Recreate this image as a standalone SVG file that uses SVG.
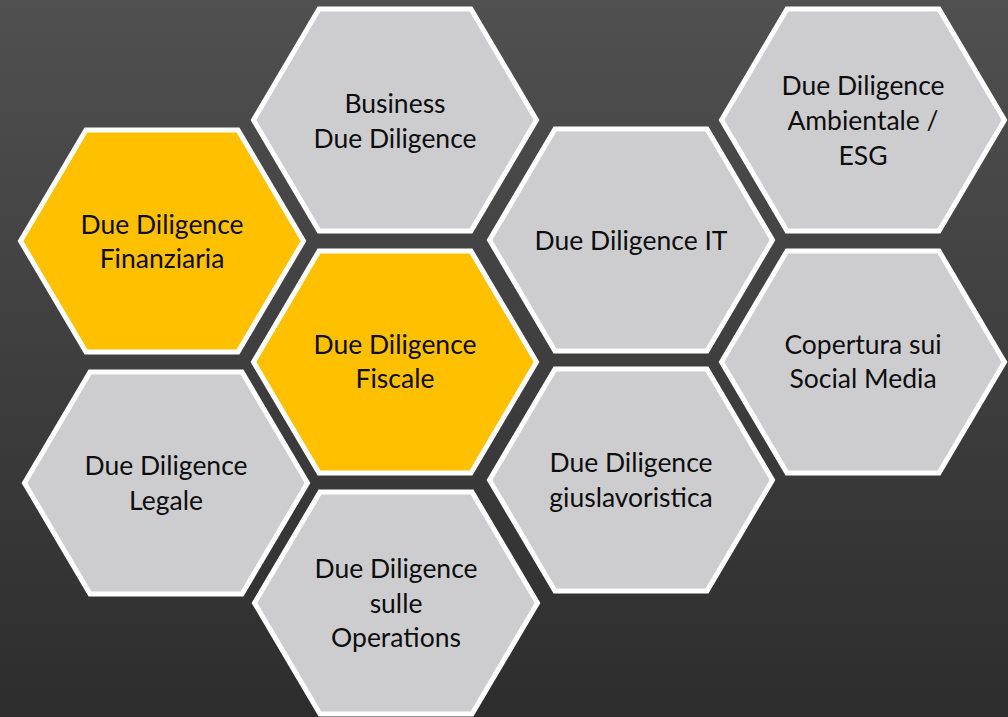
<svg xmlns="http://www.w3.org/2000/svg" xmlns:xlink="http://www.w3.org/1999/xlink" width="1008" height="717" viewBox="0 0 1008 717">
  <defs>
    <linearGradient id="bg" x1="0" y1="0" x2="0" y2="1">
      <stop offset="0" stop-color="#505050"/>
      <stop offset="1" stop-color="#2d2d2d"/>
    </linearGradient>
    <!-- one honeycomb cell, centred on the origin -->
    <polygon id="hex" points="-141.5,0 -76,-111 76,-111 141.5,0 76,111 -76,111"/>
  </defs>
  <style>
    .cell { stroke: #ffffff; stroke-width: 5; stroke-linejoin: miter; }
    .grey { fill: #cdcdd0; }
    .gold { fill: #ffc000; }
    .label { font-family: "Lato", "Open Sans", "Liberation Sans", sans-serif; font-size: 26.5px; fill: #0d0d0d; text-anchor: middle; }
  </style>

  <rect width="1008" height="717" fill="url(#bg)"/>

  <g id="dd-finanziaria" transform="translate(162,241)">
    <use xlink:href="#hex" class="cell gold"/>
    <text class="label"><tspan x="0" y="-7">Due Diligence</tspan><tspan x="0" y="27">Finanziaria</tspan></text>
  </g>

  <g id="dd-business" transform="translate(395,120)">
    <use xlink:href="#hex" class="cell grey"/>
    <text class="label"><tspan x="0" y="-7">Business</tspan><tspan x="0" y="28">Due Diligence</tspan></text>
  </g>

  <g id="dd-fiscale" transform="translate(395,362)">
    <use xlink:href="#hex" class="cell gold"/>
    <text class="label"><tspan x="0" y="-8">Due Diligence</tspan><tspan x="0" y="26">Fiscale</tspan></text>
  </g>

  <g id="dd-it" transform="translate(631,240)">
    <use xlink:href="#hex" class="cell grey"/>
    <text class="label"><tspan x="0" y="10">Due Diligence IT</tspan></text>
  </g>

  <g id="dd-ambientale" transform="translate(863,120)">
    <use xlink:href="#hex" class="cell grey"/>
    <text class="label"><tspan x="0" y="-25">Due Diligence</tspan><tspan x="0" y="10">Ambientale /</tspan><tspan x="0" y="45">ESG</tspan></text>
  </g>

  <g id="social-media" transform="translate(863,362)">
    <use xlink:href="#hex" class="cell grey"/>
    <text class="label"><tspan x="0" y="-8">Copertura sui</tspan><tspan x="0" y="26">Social Media</tspan></text>
  </g>

  <g id="dd-legale" transform="translate(166,483)">
    <use xlink:href="#hex" class="cell grey"/>
    <text class="label"><tspan x="0" y="-8">Due Diligence</tspan><tspan x="0" y="27">Legale</tspan></text>
  </g>

  <g id="dd-operations" transform="translate(396,603)">
    <use xlink:href="#hex" class="cell grey"/>
    <text class="label"><tspan x="0" y="-25">Due Diligence</tspan><tspan x="0" y="10">sulle</tspan><tspan x="0" y="44">Operations</tspan></text>
  </g>

  <g id="dd-giuslavoristica" transform="translate(631,480)">
    <use xlink:href="#hex" class="cell grey"/>
    <text class="label"><tspan x="0" y="-8">Due Diligence</tspan><tspan x="0" y="27">giuslavoristica</tspan></text>
  </g>

  <!-- the cells are not linked to each other -->
  <g id="connectors"/>
</svg>
